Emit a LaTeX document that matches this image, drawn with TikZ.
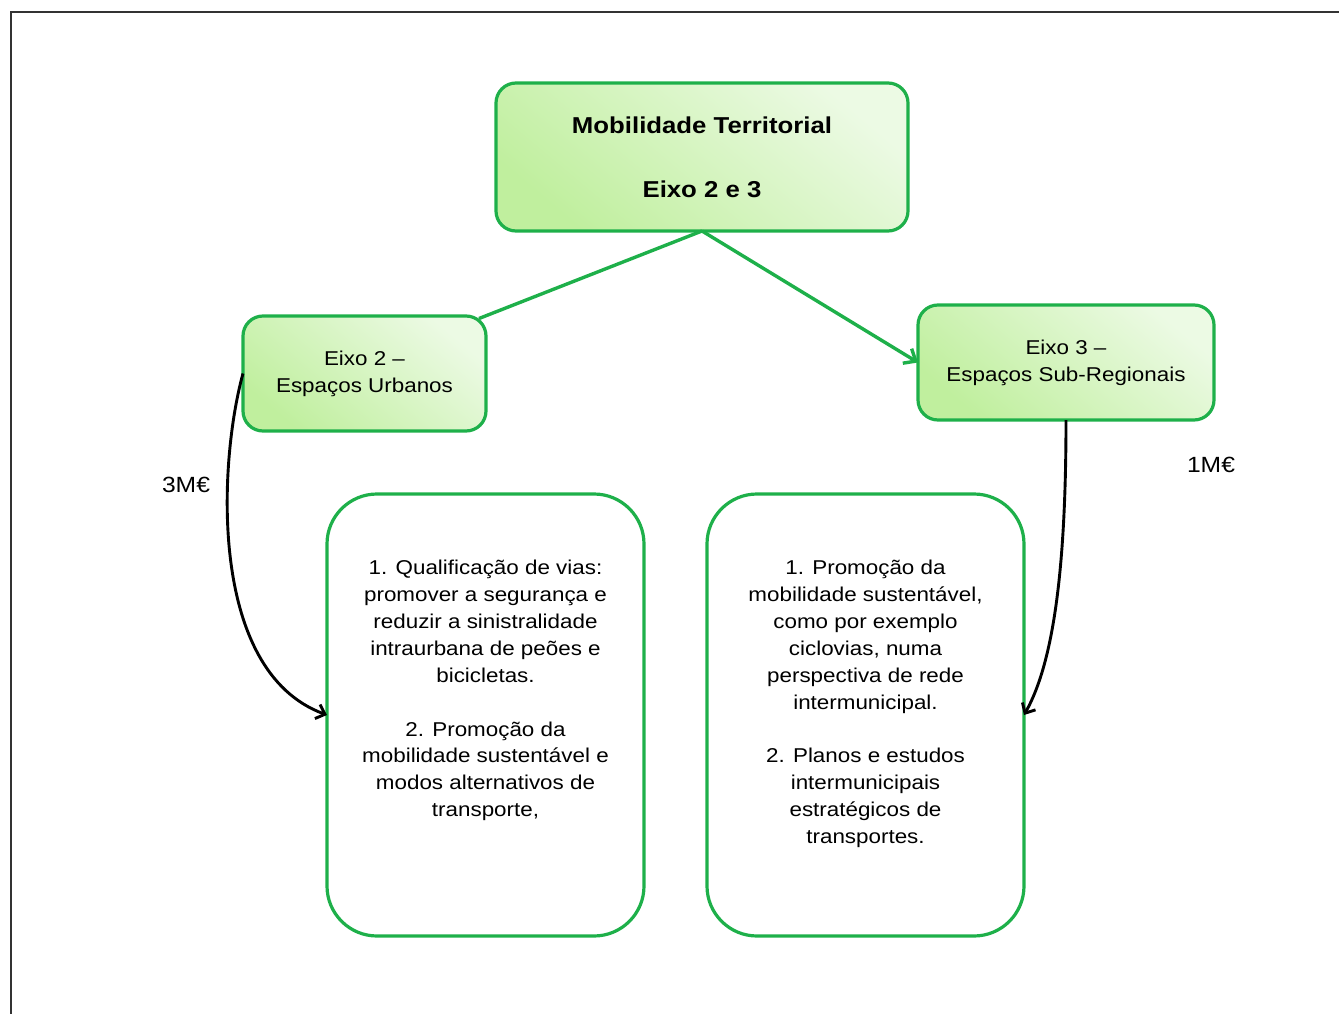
\documentclass[tikz,border=0pt]{standalone}
\usepackage{fontspec}
\setmainfont{Liberation Sans}[FakeStretch=1.12]
\usetikzlibrary{arrows.meta,calc}
\definecolor{gborder}{RGB}{30,176,74}
\definecolor{gpale}{RGB}{236,250,228}
\definecolor{gsat}{RGB}{192,239,158}
\tikzset{
  shadedbox/.style={draw=gborder, line width=3.2pt, rounded corners=20pt,
    top color=gpale, bottom color=gsat, shading angle=-40,
    inner sep=0pt, outer sep=0pt, align=center,
    font=\fontsize{20}{27}\selectfont},
  bigbox/.style={draw=gborder, line width=3.2pt, rounded corners=50pt, fill=white,
    inner sep=0pt, outer sep=0pt, minimum width=317pt, minimum height=442pt},
  bodytext/.style={align=center, inner sep=0pt, anchor=north,
    font=\fontsize{20}{26.9}\selectfont},
  greenline/.style={draw=gborder, line width=3.4pt},
  blackarrow/.style={draw=black, line width=2.9pt, -{Straight Barb[length=8pt,width=15pt]}},
  amount/.style={font=\fontsize{22}{26}\selectfont, inner sep=0pt}
}
\begin{document}
\begin{tikzpicture}[x=1pt,y=-1pt]
\useasboundingbox (0,0) rectangle (1339,1014);
% frame
\draw[line width=2pt, draw=black!80] (11,1030) -- (11,12) -- (1360,12);

\node[shadedbox, minimum width=412pt, minimum height=148pt,
  font=\fontsize{23}{64}\selectfont\bfseries] (top) at (702,157)
  {Mobilidade Territorial\\Eixo 2 e 3};

\node[shadedbox, minimum width=243pt, minimum height=115pt] (e2) at (364.5,373.5)
  {Eixo 2 –\\Espaços Urbanos};
\node[shadedbox, minimum width=296pt, minimum height=115pt] (e3) at (1066,362.5)
  {Eixo 3 –\\Espaços Sub-Regionais};

\node[bigbox] (b1) at (485.5,715) {};
\node[bigbox] (b2) at (865.5,715) {};

\node[bodytext] (t1) at (485.5,560) {1. Qualificação de vias:\\promover a segurança e\\reduzir a sinistralidade\\intraurbana de peões e\\bicicletas.\\[26.9pt]2. Promoção da\\mobilidade sustentável e\\modos alternativos de\\transporte,};
\node[bodytext] (t2) at (865.5,560) {1. Promoção da\\mobilidade sustentável,\\como por exemplo\\ciclovias, numa\\perspectiva de rede\\intermunicipal.\\[26.9pt]2. Planos e estudos\\intermunicipais\\estratégicos de\\transportes.};

% connectors
\coordinate (e2c) at ($(e2.north east)+(-7,2.5)$);
\draw[greenline] (top.south) -- (e2c);
\draw[greenline, -{Straight Barb[length=10pt,width=17pt]}] (top.south) -- (e3.west);

\draw[blackarrow] (e2.west) .. controls (219,460) and (207,671) .. (b1.west);
\draw[blackarrow] (e3.south) .. controls (1066,560) and (1055,660) .. (b2.east);

\node[amount] (m3) at (186,485) {3M€};
\node[amount] (m1) at (1211,465) {1M€};
\end{tikzpicture}
\end{document}
